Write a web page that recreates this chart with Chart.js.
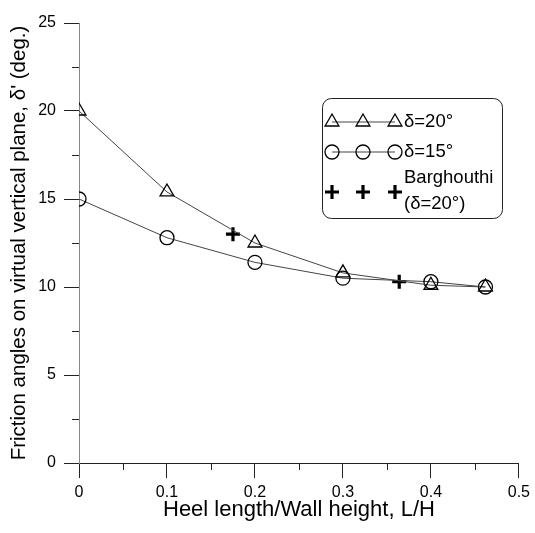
<!DOCTYPE html>
<html>
<head>
<meta charset="utf-8">
<script src="https://cdn.jsdelivr.net/npm/chart.js@4"></script>
<style>
  html, body { margin: 0; padding: 0; background: #fff; }
  #wrap { width: 535px; height: 533px; }
</style>
</head>
<body>
<div id="wrap"><canvas id="chart"></canvas></div>
<script>
// values
const ratioLH = [0, 0.1, 0.2, 0.3, 0.4, 0.462];
const delta20 = [20.0, 15.4, 12.5, 10.8, 10.1, 10.0];
const delta15 = [15.0, 12.8, 11.4, 10.5, 10.3, 10.0];
const barghouthiX = [0.175, 0.364];
const barghouthiY = [13.0, 10.3];

const xTicks = [0, 0.1, 0.2, 0.3, 0.4, 0.5];
const yTicks = [0, 5, 10, 15, 20, 25];

const FONT = "'Liberation Sans', Arial, sans-serif";

function pts(xs, ys) {
    return xs.map((x, i) => ({ x: x, y: ys[i] }));
}

// minor ticks + legend box, both drawn after the chart
const extrasPlugin = {
    id: 'extras',
    afterDraw(chart) {
        const ctx = chart.ctx;
        const xs = chart.scales.x, ys = chart.scales.y;
        ctx.save();
        ctx.strokeStyle = '#222';
        ctx.lineWidth = 1;
        ctx.beginPath();
        for (let v = 0.05; v < 0.5; v += 0.1) {
            const px = Math.round(xs.getPixelForValue(v)) + 0.5;
            ctx.moveTo(px, ys.bottom);
            ctx.lineTo(px, ys.bottom + 7);
        }
        for (let v = 2.5; v < 25; v += 5) {
            const py = Math.round(ys.getPixelForValue(v)) + 0.5;
            ctx.moveTo(xs.left, py);
            ctx.lineTo(xs.left - 7, py);
        }
        ctx.stroke();

        // legend box
        const bx = 322.5, by = 98.5, bw = 180, bh = 120;
        ctx.beginPath();
        ctx.roundRect(bx, by, bw, bh, 9);
        ctx.fillStyle = '#fff';
        ctx.fill();
        ctx.strokeStyle = '#222';
        ctx.stroke();

        const mx = [332, 363, 395];
        const rows = [
            { y: 122, style: 'triangle', r: 8, w: 1.3, line: true },
            { y: 152, style: 'circle', r: 7, w: 1.3, line: true },
            { y: 192, style: 'cross', r: 7, w: 3.2, line: false }
        ];
        rows.forEach(row => {
            if (row.line) {
                ctx.beginPath();
                ctx.moveTo(mx[0], row.y);
                ctx.lineTo(mx[2], row.y);
                ctx.strokeStyle = '#444';
                ctx.lineWidth = 1;
                ctx.stroke();
            }
            mx.forEach(x => {
                ctx.strokeStyle = '#000';
                ctx.fillStyle = 'rgba(0,0,0,0)';
                ctx.lineWidth = row.w;
                Chart.helpers.drawPoint(ctx, { pointStyle: row.style, radius: row.r, borderWidth: row.w }, x, row.y);
            });
        });
        ctx.fillStyle = '#000';
        ctx.font = '18.5px ' + FONT;
        ctx.textBaseline = 'middle';
        ctx.textAlign = 'left';
        ctx.fillText('\u03b4=20\u00b0', 404, 122);
        ctx.fillText('\u03b4=15\u00b0', 404, 152);
        ctx.fillText('Barghouthi', 404, 178);
        ctx.fillText('(\u03b4=20\u00b0)', 404, 204);
        ctx.restore();
    }
};

new Chart(document.getElementById('chart'), {
    type: 'scatter',
    data: {
        datasets: [
            {
                label: '\u03b4=20\u00b0',
                data: pts(ratioLH, delta20),
                showLine: true,
                borderColor: '#444',
                borderWidth: 1,
                pointStyle: 'triangle',
                pointRadius: 8,
                pointBorderColor: '#000',
                pointBackgroundColor: 'rgba(0,0,0,0)',
                pointBorderWidth: 1.3
            },
            {
                label: '\u03b4=15\u00b0',
                data: pts(ratioLH, delta15),
                showLine: true,
                borderColor: '#444',
                borderWidth: 1,
                pointStyle: 'circle',
                pointRadius: 7,
                pointBorderColor: '#000',
                pointBackgroundColor: 'rgba(0,0,0,0)',
                pointBorderWidth: 1.3
            },
            {
                label: 'Barghouthi (\u03b4=20\u00b0)',
                data: pts(barghouthiX, barghouthiY),
                showLine: false,
                pointStyle: 'cross',
                pointRadius: 7,
                pointBorderColor: '#000',
                pointBorderWidth: 3.2
            }
        ]
    },
    options: {
        responsive: true,
        maintainAspectRatio: false,
        animation: false,
        events: [],
        layout: { padding: { top: 23, right: 16, left: 0, bottom: 0 } },
        plugins: {
            legend: { display: false },
            tooltip: { enabled: false }
        },
        scales: {
            x: {
                type: 'linear',
                min: 0,
                max: 0.5,
                afterBuildTicks: s => { s.ticks = xTicks.map(v => ({ value: v })); },
                afterFit: s => { s.height = 70; },
                border: { color: '#222', width: 1 },
                grid: { drawOnChartArea: false, tickLength: 15, tickColor: '#222', tickWidth: 1 },
                ticks: {
                    color: '#000',
                    padding: 5,
                    maxRotation: 0,
                    font: { family: FONT, size: 16 },
                    callback: v => String(Math.round(v * 10) / 10)
                },
                title: {
                    display: true,
                    text: 'Heel length/Wall height, L/H',
                    color: '#000',
                    font: { family: FONT, size: 22 },
                    padding: { top: 0, bottom: 10 }
                }
            },
            y: {
                type: 'linear',
                min: 0,
                max: 25,
                afterBuildTicks: s => { s.ticks = yTicks.map(v => ({ value: v })); },
                afterFit: s => { s.width = 79; },
                border: { color: '#888', width: 1 },
                grid: { drawOnChartArea: false, tickLength: 15, tickColor: '#222', tickWidth: 1 },
                ticks: {
                    color: '#000',
                    padding: 8,
                    font: { family: FONT, size: 16 }
                },
                title: {
                    display: true,
                    text: 'Friction angles on virtual vertical plane, \u03b4\' (deg.)',
                    color: '#000',
                    font: { family: FONT, size: 20.5 },
                    padding: { top: 7.5, bottom: 0 }
                }
            }
        }
    },
    plugins: [extrasPlugin]
});
</script>
</body>
</html>
